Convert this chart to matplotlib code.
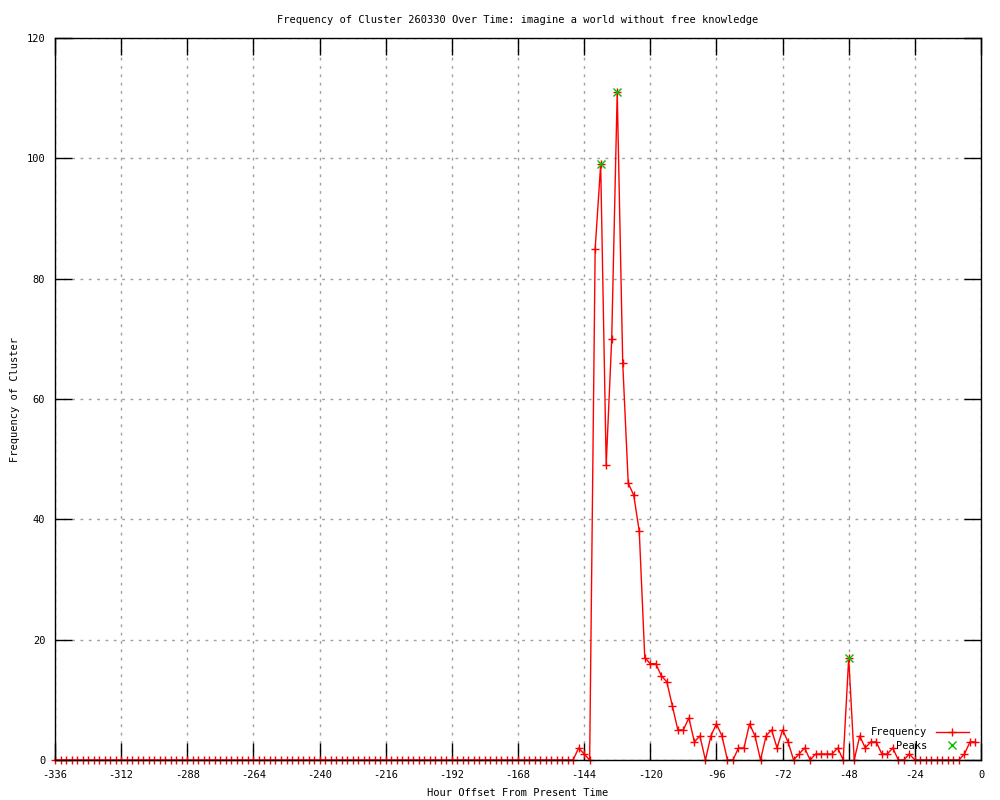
import matplotlib
matplotlib.use("Agg")
import matplotlib.pyplot as plt

title = "Frequency of Cluster 260330 Over Time: imagine a world without free knowledge"
xlabel = "Hour Offset From Present Time"
ylabel = "Frequency of Cluster"

hours = list(range(-336, 0, 2))
frequency = [
    0, 0, 0, 0, 0, 0, 0, 0, 0, 0, 0, 0, 0, 0, 0, 0, 0, 0, 0, 0,
    0, 0, 0, 0, 0, 0, 0, 0, 0, 0, 0, 0, 0, 0, 0, 0, 0, 0, 0, 0,
    0, 0, 0, 0, 0, 0, 0, 0, 0, 0, 0, 0, 0, 0, 0, 0, 0, 0, 0, 0,
    0, 0, 0, 0, 0, 0, 0, 0, 0, 0, 0, 0, 0, 0, 0, 0, 0, 0, 0, 0,
    0, 0, 0, 0, 0, 0, 0, 0, 0, 0, 0, 0, 0, 0, 0,
    2, 1, 0, 85, 99, 49, 70, 111, 66, 46,
    44, 38, 17, 16, 16, 14, 13, 9, 5, 5,
    7, 3, 4, 0, 4, 6, 4, 0, 0, 2,
    2, 6, 4, 0, 4, 5, 2, 5, 3, 0,
    1, 2, 0, 1, 1, 1, 1, 2, 0, 17,
    0, 4, 2, 3, 3, 1, 1, 2, 0, 0,
    1, 0, 0, 0, 0, 0, 0, 0, 0, 0,
    1, 3, 3,
]
peak_hours = [-138, -132, -48]
peak_values = [99, 111, 17]

xticks = list(range(-336, 1, 24))
yticks = list(range(0, 121, 20))

plt.rcParams['font.family'] = ['DejaVu Sans Mono']
fs = 7.5

fig = plt.figure(figsize=(10, 8), dpi=100)
ax = fig.add_axes([0.055, 0.05, 0.926, 0.9025])

ax.plot(hours, frequency, color='#ff0000', linewidth=1, marker='+',
        markersize=6, markeredgewidth=1, clip_on=False, zorder=3,
        label='Frequency')
ax.plot(peak_hours, peak_values, linestyle='none', color='#00c000', marker='x',
        markersize=6, markeredgewidth=1, clip_on=False, zorder=3, label='Peaks')

ax.set_xlim(-336, 0)
ax.set_ylim(0, 120)
ax.set_xticks(xticks)
ax.set_yticks(yticks)
ax.set_xticklabels([str(t) for t in xticks], fontsize=fs)
ax.set_yticklabels([str(t) for t in yticks], fontsize=fs)
ax.tick_params(direction='in', length=12, width=1, color='black',
               top=True, right=True, pad=7)
ax.grid(True, color='#a0a0a0', linestyle=(0, (2, 4)), linewidth=1)
for s in ax.spines.values():
    s.set_linewidth(1)
    s.set_color('black')
    s.set_zorder(4)

ax.set_title(title, fontsize=fs, pad=11)
ax.set_xlabel(xlabel, fontsize=fs, labelpad=6)
ax.set_ylabel(ylabel, fontsize=fs, labelpad=5)

leg = ax.legend(loc='lower right', bbox_to_anchor=(0.995, 0.003), frameon=False,
                markerfirst=False, fontsize=fs, handlelength=3.2,
                handletextpad=0.8, labelspacing=0.3, borderaxespad=0.3)

fig.savefig('out.png', dpi=100)
